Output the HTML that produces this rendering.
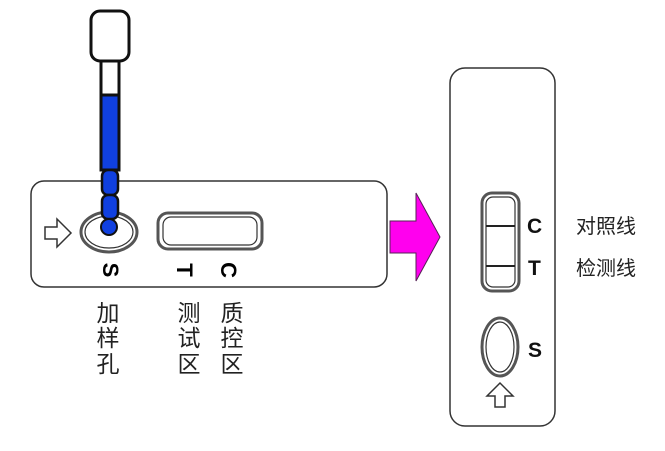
<!DOCTYPE html>
<html><head><meta charset="utf-8"><style>
html,body{margin:0;padding:0;background:#fff;}
svg text{font-family:"Liberation Sans","Noto Sans CJK SC",sans-serif;}
</style></head><body>
<svg width="665" height="446" viewBox="0 0 665 446" xmlns="http://www.w3.org/2000/svg">
<rect x="31" y="181" width="356" height="106" rx="13" fill="#fff" stroke="#333" stroke-width="1.5"/>
<path d="M45 227 h12 v-8 l14 14 l-14 14 v-8 h-12 z" fill="#fff" stroke="#333" stroke-width="1.5"/>
<ellipse cx="109" cy="232" rx="28" ry="20" fill="#fff" stroke="#555" stroke-width="3"/>
<ellipse cx="109" cy="232" rx="24" ry="16" fill="#fff" stroke="#333" stroke-width="1.2"/>
<rect x="158" y="213" width="104" height="36" rx="10" fill="#fff" stroke="#555" stroke-width="3"/>
<rect x="163" y="217" width="94" height="28" rx="8" fill="#fff" stroke="#333" stroke-width="1.2"/>
<text x="0" y="0" font-size="22" font-weight="bold" transform="translate(103,270) rotate(90)" text-anchor="middle">S</text>
<text x="0" y="0" font-size="22" font-weight="bold" transform="translate(177,270) rotate(90)" text-anchor="middle">T</text>
<text x="0" y="0" font-size="22" font-weight="bold" transform="translate(221,270) rotate(90)" text-anchor="middle">C</text>
<rect x="91" y="11" width="38" height="50" rx="9" fill="#fff" stroke="#111" stroke-width="3"/>
<rect x="101" y="61" width="18" height="36" fill="#fff" stroke="#111" stroke-width="3"/>
<rect x="101" y="95" width="18" height="75" fill="#1040e0" stroke="#111" stroke-width="3"/>
<rect x="102" y="170" width="16" height="25" rx="6" fill="#1040e0" stroke="#111" stroke-width="2.5"/>
<rect x="102" y="195" width="16" height="24" rx="6" fill="#1040e0" stroke="#111" stroke-width="2.5"/>
<circle cx="109" cy="227" r="8" fill="#1040e0" stroke="#111" stroke-width="2"/>
<g font-size="23" fill="#222" text-anchor="middle">
<text x="108" y="321">加</text><text x="108" y="346">样</text><text x="108" y="372">孔</text>
<text x="189" y="321">测</text><text x="189" y="346">试</text><text x="189" y="372">区</text>
<text x="232" y="321">质</text><text x="232" y="346">控</text><text x="232" y="372">区</text>
</g>
<path d="M390 221 h26 v-28 l24 44 l-24 44 v-28 h-26 z" fill="#ff00ee" stroke="#552255" stroke-width="1"/>
<rect x="450" y="68" width="105" height="358" rx="15" fill="#fff" stroke="#333" stroke-width="1.5"/>
<rect x="482" y="193" width="37" height="98" rx="10" fill="#fff" stroke="#555" stroke-width="3"/>
<rect x="486" y="197" width="29" height="90" rx="7" fill="#fff" stroke="#333" stroke-width="1.2"/>
<line x1="486" y1="226" x2="515" y2="226" stroke="#222" stroke-width="2"/>
<line x1="486" y1="266" x2="515" y2="266" stroke="#222" stroke-width="2"/>
<ellipse cx="500" cy="347" rx="18" ry="29" fill="#fff" stroke="#555" stroke-width="3"/>
<ellipse cx="500" cy="347" rx="14" ry="25" fill="#fff" stroke="#333" stroke-width="1.2"/>
<path d="M495 407 v-11 h-8 l13 -13 l13 13 h-8 v11 z" fill="#fff" stroke="#333" stroke-width="1.5"/>
<g font-size="21" font-weight="bold" fill="#111">
<text x="527" y="233">C</text><text x="528" y="275">T</text><text x="528" y="357">S</text>
</g>
<g font-size="20" fill="#222">
<text x="576" y="233">对照线</text>
<text x="576" y="275">检测线</text>
</g>
</svg>
</body></html>
